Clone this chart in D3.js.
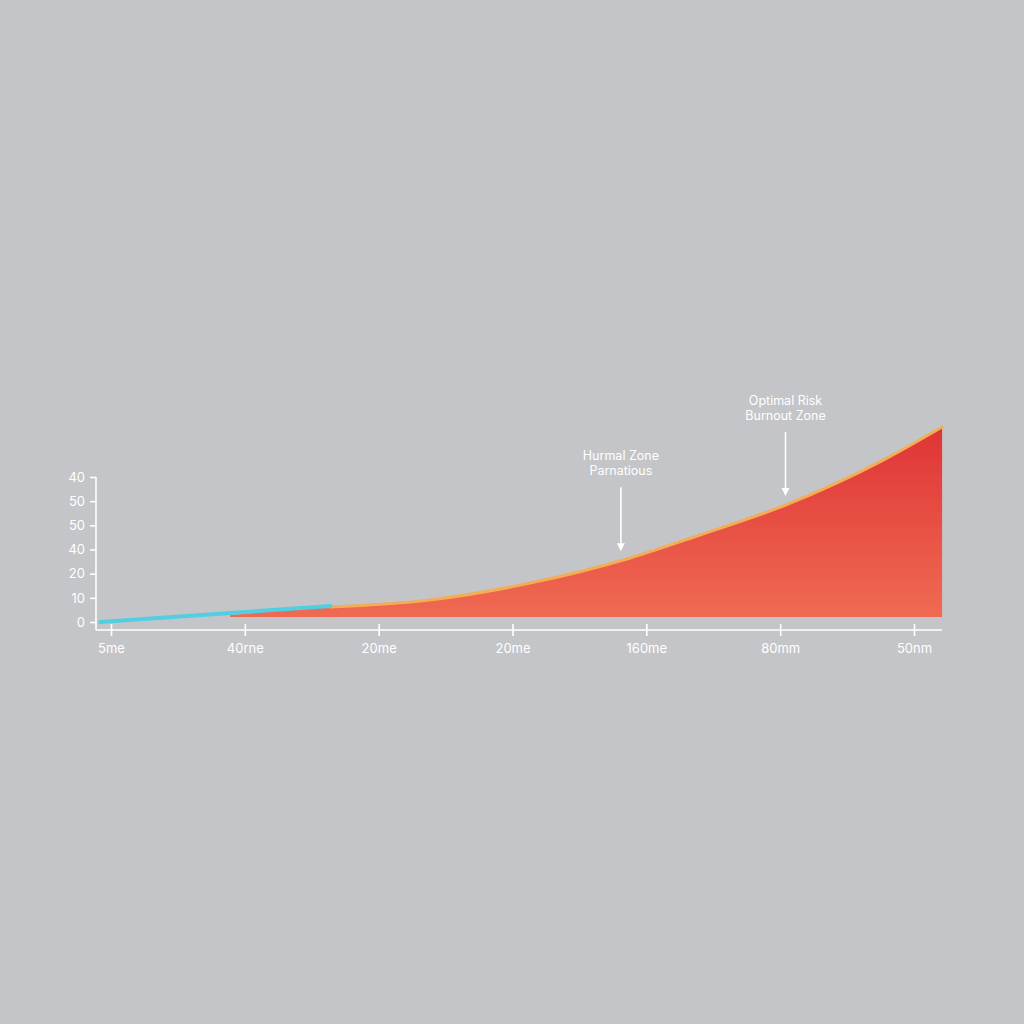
<!DOCTYPE html>
<html><head><meta charset="utf-8">
<script src="https://cdn.jsdelivr.net/npm/d3@7"></script>
<style>html,body{margin:0;padding:0;background:#c4c5c8;}svg{display:block;}</style>
</head><body>
<script>
// Data
const xTickLabels = ["5me","40rne","20me","20me","160me","80mm","50nm"];
const yTickLabels = ["0","10","20","40","50","50","40"];
const riskX = [0.89, 1.64, 2.38, 3.13, 3.88, 4.40, 5.04, 5.77, 6.21];
const riskY = [2.9, 6.2, 9.1, 16.1, 26.5, 36.0, 48.4, 67.0, 80.7];
const calmX = [-0.08, 1.64];
const calmY = [0.0, 6.6];
const baseValue = 2.07;
const annotLabels = [["Hurmal Zone","Parnatious"],["Optimal Risk","Burnout Zone"]];
const annotX = [3.81, 5.04];
const annotY = [25.6, 48.4];

const W = 1024, H = 1024;
const svg = d3.select("body").append("svg").attr("width", W).attr("height", H);
svg.append("rect").attr("width", W).attr("height", H).attr("fill", "#c4c5c8");

const x = d3.scaleLinear().domain([0, 6]).range([111, 914]);
const y = d3.scaleLinear().domain([0, 60]).range([622, 477]);
const xp = d3.scalePoint().domain(d3.range(xTickLabels.length)).range([111, 914]);
const yp = d3.scalePoint().domain(d3.range(yTickLabels.length)).range([622, 477]);

const defs = svg.append("defs");
const g = defs.append("linearGradient").attr("id","rg").attr("x1",0).attr("y1",0).attr("x2",0).attr("y2",1);
g.append("stop").attr("offset","0%").attr("stop-color","#df3436");
g.append("stop").attr("offset","100%").attr("stop-color","#f06a52");

const risk = riskX.map((d,i)=>({x:d,y:riskY[i]}));
const area = d3.area().x(d=>x(d.x)).y0(y(baseValue)).y1(d=>y(d.y)).curve(d3.curveMonotoneX);
svg.append("path").datum(risk).attr("d", area).attr("fill","url(#rg)");

const line = d3.line().x(d=>x(d.x)).y(d=>y(d.y)).curve(d3.curveMonotoneX);
svg.append("path").datum(risk.slice(1)).attr("d", line).attr("fill","none")
  .attr("stroke","#f4ad55").attr("stroke-width",3).attr("stroke-linecap","round");

const calm = calmX.map((d,i)=>({x:d,y:calmY[i]}));
svg.append("path").datum(calm).attr("d", d3.line().x(d=>x(d.x)).y(d=>y(d.y))).attr("fill","none")
  .attr("stroke","#4fcfe0").attr("stroke-width",4).attr("stroke-linecap","round");

// Axes
const axisColor = "#ffffff";
const xAxis = svg.append("g").attr("transform","translate(0,630)")
  .call(d3.axisBottom(xp).tickFormat(i=>xTickLabels[i]).tickSize(0).tickPadding(11));
xAxis.select(".domain").remove();
xAxis.append("line").attr("x1",96).attr("x2",942).attr("y1",0).attr("y2",0)
  .attr("stroke",axisColor).attr("stroke-width",1.6);
xAxis.selectAll(".tick").append("line").attr("y1",-6).attr("y2",6)
  .attr("stroke",axisColor).attr("stroke-width",1.6);
xAxis.selectAll(".tick text").attr("fill","#ffffff").attr("font-size",13)
  .attr("font-family","Inter, 'Open Sans', sans-serif").attr("dy","0.9em");

const yAxis = svg.append("g").attr("transform","translate(96,0)")
  .call(d3.axisLeft(yp).tickFormat(i=>yTickLabels[i]).tickSize(6).tickPadding(5));
yAxis.select(".domain").remove();
yAxis.append("line").attr("x1",0).attr("x2",0).attr("y1",477).attr("y2",630)
  .attr("stroke",axisColor).attr("stroke-width",1.6);
yAxis.selectAll(".tick line").attr("stroke",axisColor).attr("stroke-width",1.6);
yAxis.selectAll(".tick text").attr("fill","#ffffff").attr("font-size",13)
  .attr("font-family","Inter, 'Open Sans', sans-serif");

// Annotations
annotLabels.forEach((lab,i)=>{
  const ax = x(annotX[i]);
  const tipY = y(annotY[i]) - 9;
  const topY = tipY - 64;
  const t = svg.append("text").attr("x",ax).attr("text-anchor","middle")
    .attr("fill","#ffffff").attr("font-size",12.5).attr("font-family","Inter, 'Open Sans', sans-serif");
  t.append("tspan").attr("x",ax).attr("y",topY-27).text(lab[0]);
  t.append("tspan").attr("x",ax).attr("y",topY-12).text(lab[1]);
  svg.append("line").attr("x1",ax).attr("x2",ax).attr("y1",topY).attr("y2",tipY-4)
    .attr("stroke","#ffffff").attr("stroke-width",1.6);
  svg.append("path").attr("d",`M${ax-4},${tipY-8} L${ax+4},${tipY-8} L${ax},${tipY} Z`).attr("fill","#ffffff");
});
</script>
</body></html>
